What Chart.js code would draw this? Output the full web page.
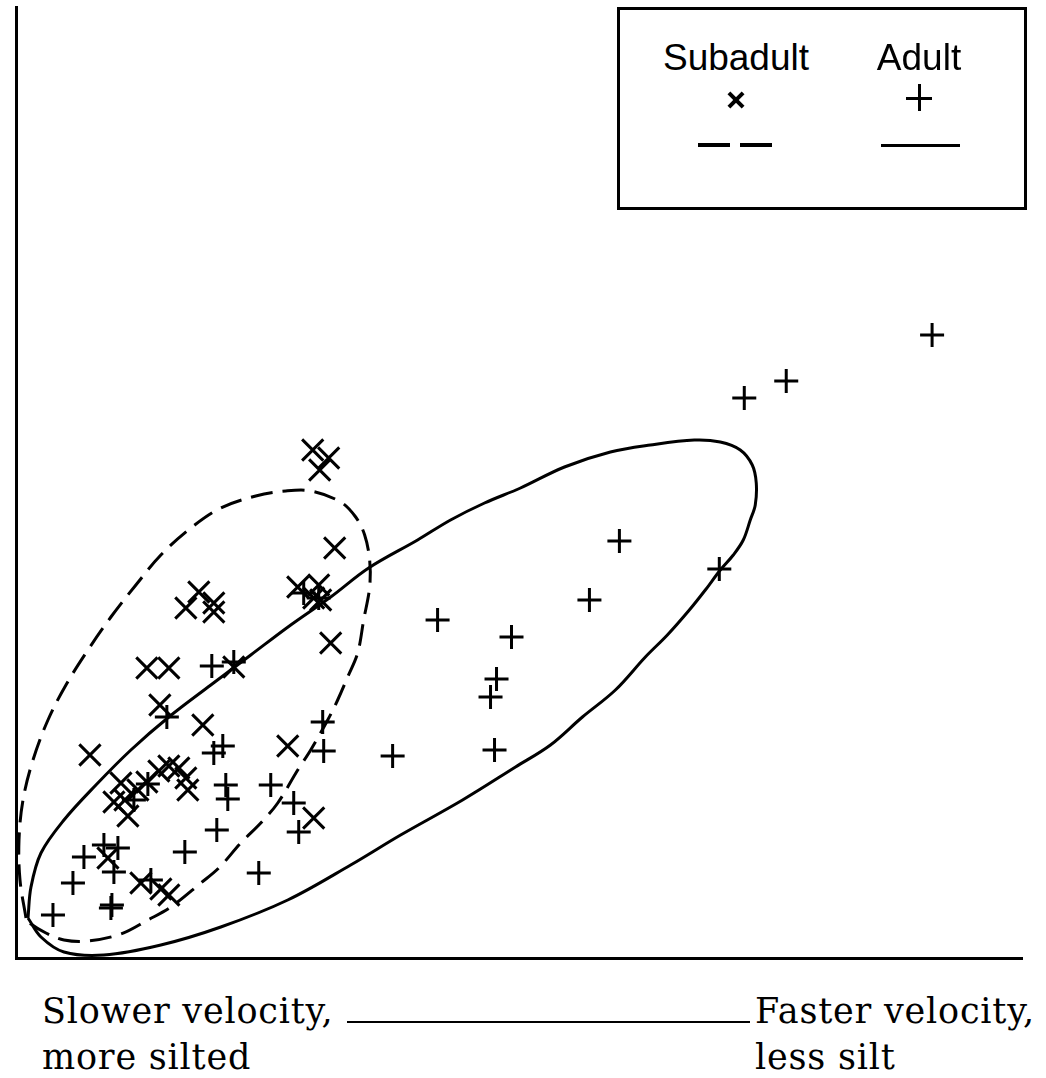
<!DOCTYPE html>
<html>
<head>
<meta charset="utf-8">
<title>Subadult and adult habitat use</title>
<script src="https://cdn.jsdelivr.net/npm/chart.js@4/dist/chart.umd.min.js"></script>
<style>
  html, body { margin: 0; padding: 0; background: #fff; }
  #page { position: relative; width: 1046px; height: 1078px; overflow: hidden; }
  #plot { position: absolute; left: 0; top: 0; }
  .legend-box { position: absolute; left: 617px; top: 7px; width: 410px; height: 203px;
    border: 3px solid #000; box-sizing: border-box; background: #fff; }
  .legend-label { position: absolute; width: 220px; text-align: center;
    font-family: "Liberation Sans", Arial, sans-serif; font-size: 37px; line-height: 37px; color: #000; }
  .bar { position: absolute; background: #000; }
  .axis-note { position: absolute; font-family: "DejaVu Serif", serif; font-size: 35px;
    letter-spacing: 0.8px; line-height: 46px; color: #000; white-space: nowrap; }
  .rule { position: absolute; border-top: 2px solid #000; }
</style>
</head>
<body>
<div id="page">
  <canvas id="plot" width="1046" height="962"></canvas>

  <div class="legend-box"></div>
  <div id="legendItems"></div>

  <div class="axis-note" style="left:42px; top:988px;">Slower velocity,<br>more silted</div>
  <div class="rule" style="left:347px; top:1021px; width:403px;"></div>
  <div class="axis-note" style="left:755px; top:988px;">Faster velocity,<br>less silt</div>
</div>

<script>
// Group names
const groups = ['Subadult', 'Adult'];

// Subadult observations (relative velocity / silt gradient units)
const subadultX = [29.7, 31.3, 30.4, 31.9, 28.2, 30.3, 29.8, 30.5, 31.5, 18.3,
                   17.0, 19.8, 19.8, 13.1, 15.3, 21.8, 14.4, 18.7, 7.4, 27.2,
                   29.8, 10.5, 9.8, 11.2, 12.2, 13.1, 14.3, 15.3, 16.3, 17.0,
                   17.2, 10.9, 9.2, 12.5, 14.5, 15.3];
const subadultY = [50.8, 50.0, 48.8, 41.0, 37.1, 37.3, 36.0, 35.8, 31.5, 36.6,
                   35.0, 35.5, 34.6, 29.0, 29.0, 29.1, 25.3, 23.3, 20.3, 21.2,
                   14.0, 17.5, 15.6, 14.2, 16.8, 17.6, 18.7, 19.2, 19.0, 18.0,
                   16.8, 15.8, 10.0, 7.5, 6.9, 6.3];

// Adult observations
const adultX = [91.7, 77.1, 72.9, 60.4, 70.4, 57.4, 42.2, 49.6, 48.1, 47.5,
                37.7, 47.9, 30.7, 30.8, 19.6, 15.1, 19.8, 20.7, 21.0, 21.2,
                20.1, 25.5, 27.8, 28.3, 24.3, 16.9, 6.8, 8.8, 10.2, 9.8,
                5.7, 3.7, 9.5, 9.6, 13.5, 28.8, 30.3, 11.8, 13.2, 21.8];
const adultY = [62.3, 57.7, 56.0, 41.7, 38.9, 35.8, 33.8, 32.1, 27.9, 26.1,
                20.2, 20.8, 23.6, 20.7, 29.2, 24.1, 20.5, 21.2, 17.3, 15.9,
                12.8, 17.3, 15.5, 12.6, 8.5, 10.6, 10.1, 11.3, 11.0, 8.6,
                7.5, 4.3, 5.0, 5.3, 7.8, 36.5, 36.0, 15.8, 17.4, 29.6];

// Hand-drawn range outline around the subadult points (dashed)
const subadultRangeX = [1.0, 0.4, 0.3, 0.7, 1.7, 3.2, 5.0, 7.2, 9.5, 12.0,
                        14.5, 17.5, 20.5, 24.0, 27.0, 29.5, 32.5, 34.0, 34.9, 35.4,
                        35.4, 34.8, 34.2, 33.2, 32.2, 31.2, 29.5, 28.2, 26.2, 24.5,
                        22.5, 20.3, 18.5, 15.5, 13.2, 10.5, 7.2, 4.8, 3.0, 1.5, 1.0];
const subadultRangeY = [4.0, 7.8, 11.8, 15.8, 19.8, 23.8, 27.3, 30.8, 34.1, 37.3,
                        40.3, 43.0, 45.0, 46.2, 46.7, 46.7, 45.6, 44.1, 42.3, 39.8,
                        37.1, 33.8, 30.5, 28.1, 25.8, 23.8, 20.8, 18.8, 15.5, 13.5,
                        11.5, 9.0, 7.5, 5.1, 3.8, 2.4, 1.7, 1.8, 2.5, 3.4, 4.0];

// Hand-drawn range outline around the adult points (solid)
const adultRangeX = [1.2, 1.5, 2.5, 4.8, 8.0, 11.5, 15.3, 19.5, 23.5, 27.5,
                     31.5, 35.3, 40.2, 43.5, 46.9, 50.5, 54.9, 59.5, 63.5, 67.9,
                     70.5, 72.5, 73.7, 74.1, 74.0, 73.5, 72.8, 71.8, 70.5, 69.0,
                     67.4, 65.2, 63.0, 60.0, 56.7, 53.5, 50.0, 44.7, 38.5, 33.5,
                     27.2, 20.5, 14.5, 8.8, 4.8, 2.5, 1.2];
const adultRangeY = [4.0, 7.1, 10.5, 13.8, 17.3, 20.8, 24.1, 27.3, 30.3, 33.3,
                     36.1, 39.0, 41.8, 43.8, 45.5, 47.0, 49.1, 50.6, 51.3, 51.8,
                     51.6, 50.8, 49.3, 47.5, 45.3, 43.8, 41.8, 40.3, 38.8, 36.8,
                     34.8, 32.3, 30.1, 26.8, 24.1, 21.3, 19.1, 15.8, 12.3, 9.3,
                     5.8, 3.1, 1.3, 0.3, 0.6, 2.1, 4.0];

const toPoints = (xs, ys) => xs.map((x, i) => ({ x, y: ys[i] }));

const chart = new Chart(document.getElementById('plot'), {
  type: 'scatter',
  data: {
    datasets: [
      {
        label: groups[1] + ' range',
        data: toPoints(adultRangeX, adultRangeY),
        showLine: true,
        borderColor: '#000',
        borderWidth: 3,
        pointRadius: 0,
        tension: 0.35,
        fill: false
      },
      {
        label: groups[0] + ' range',
        data: toPoints(subadultRangeX, subadultRangeY),
        showLine: true,
        borderColor: '#000',
        borderWidth: 3,
        borderDash: [22, 10],
        pointRadius: 0,
        tension: 0.35,
        fill: false
      },
      {
        label: groups[0],
        data: toPoints(subadultX, subadultY),
        pointStyle: 'crossRot',
        pointRadius: 15,
        borderColor: '#000',
        borderWidth: 3,
        clip: false
      },
      {
        label: groups[1],
        data: toPoints(adultX, adultY),
        pointStyle: 'cross',
        pointRadius: 12,
        borderColor: '#000',
        borderWidth: 3,
        clip: false
      }
    ]
  },
  options: {
    responsive: false,
    animation: false,
    devicePixelRatio: 1,
    layout: { autoPadding: false, padding: { left: 16, right: 24, top: 7, bottom: 4 } },
    plugins: { legend: { display: false }, tooltip: { enabled: false } },
    scales: {
      x: {
        type: 'linear', min: 0, max: 100.7,
        ticks: { display: false },
        grid: { display: false, drawTicks: false },
        border: { display: true, color: '#000', width: 3 }
      },
      y: {
        type: 'linear', min: 0, max: 95.1,
        ticks: { display: false },
        grid: { display: false, drawTicks: false },
        border: { display: true, color: '#000', width: 3 }
      }
    }
  }
});

// Legend: group name, marker and outline style for each group
const legendItems = document.getElementById('legendItems');
const legendCols = [
  { name: groups[0], cx: 736, marker: 'x', dashed: true },
  { name: groups[1], cx: 919, marker: '+', dashed: false }
];
function bar(left, top, w, h, rot) {
  const d = document.createElement('div');
  d.className = 'bar';
  d.style.left = left + 'px'; d.style.top = top + 'px';
  d.style.width = w + 'px'; d.style.height = h + 'px';
  if (rot) d.style.transform = 'rotate(' + rot + 'deg)';
  legendItems.appendChild(d);
}
legendCols.forEach(c => {
  const t = document.createElement('div');
  t.className = 'legend-label';
  t.style.left = (c.cx - 110) + 'px';
  t.style.top = '39px';
  t.textContent = c.name;
  legendItems.appendChild(t);
  if (c.marker === 'x') {
    bar(c.cx - 10, 98, 20, 4, 45);
    bar(c.cx - 10, 98, 20, 4, -45);
  } else {
    bar(c.cx - 13, 97, 26, 3, 0);
    bar(c.cx - 1.5, 84, 3, 27, 0);
  }
  if (c.dashed) {
    bar(c.cx - 38, 143, 32, 4, 0);
    bar(c.cx + 4, 143, 32, 4, 0);
  } else {
    bar(c.cx - 38, 144, 79, 3, 0);
  }
});
</script>
</body>
</html>
